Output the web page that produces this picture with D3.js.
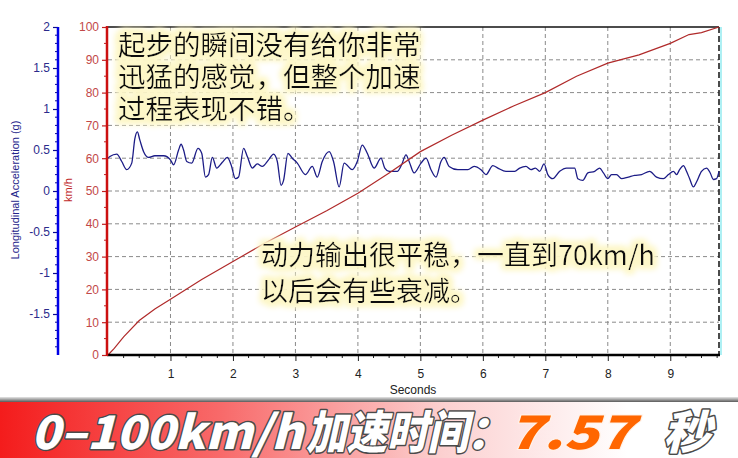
<!DOCTYPE html>
<html><head><meta charset="utf-8">
<script src="https://cdn.jsdelivr.net/npm/d3@7/dist/d3.min.js"></script>
<style>
html,body{margin:0;padding:0;background:#fff;}
svg{display:block;}
</style></head>
<body>
<svg id="chart" width="738" height="458"></svg>
<script>
// ---------- data ----------
const accTime = [0, 0.03, 0.14, 0.22, 0.30, 0.38, 0.43, 0.47, 0.51, 0.57,
  0.65, 0.75, 0.89, 1.00, 1.05, 1.13, 1.17, 1.21, 1.26, 1.34,
  1.44, 1.50, 1.56, 1.61, 1.67, 1.74, 1.83, 1.91, 1.97, 2.04,
  2.09, 2.17, 2.23, 2.31, 2.39, 2.47, 2.57, 2.65, 2.71, 2.77,
  2.81, 2.88, 2.95, 3.03, 3.16, 3.27, 3.35, 3.43, 3.54, 3.61,
  3.70, 3.78, 3.91, 3.99, 4.07, 4.15, 4.26, 4.37, 4.43, 4.50,
  4.63, 4.70, 4.77, 4.82, 4.90, 5.01, 5.09, 5.17, 5.25, 5.33,
  5.38, 5.46, 5.60, 5.76, 5.86, 5.97, 6.05, 6.16, 6.24, 6.37,
  6.51, 6.59, 6.69, 6.77, 6.84, 6.91, 6.98, 7.04, 7.12, 7.23,
  7.34, 7.47, 7.52, 7.60, 7.68, 7.79, 7.87, 7.93, 8.00, 8.06,
  8.14, 8.22, 8.33, 8.43, 8.54, 8.67, 8.78, 8.89, 8.97, 9.05,
  9.10, 9.15, 9.21, 9.26, 9.31, 9.37, 9.42, 9.50, 9.58, 9.64,
  9.69, 9.74, 9.78];
const accG = [0.40, 0.42, 0.45, 0.36, 0.26, 0.34, 0.64, 0.72, 0.62, 0.48,
  0.41, 0.43, 0.43, 0.38, 0.32, 0.50, 0.57, 0.50, 0.36, 0.34,
  0.52, 0.46, 0.17, 0.20, 0.41, 0.28, 0.35, 0.41, 0.32, 0.15,
  0.17, 0.52, 0.42, 0.28, 0.33, 0.30, 0.38, 0.45, 0.36, 0.07,
  0.13, 0.46, 0.40, 0.34, 0.20, 0.30, 0.17, 0.36, 0.48, 0.36,
  0.05, 0.34, 0.26, 0.36, 0.56, 0.46, 0.28, 0.40, 0.28, 0.24,
  0.24, 0.32, 0.44, 0.36, 0.22, 0.34, 0.40, 0.26, 0.17, 0.36,
  0.41, 0.30, 0.26, 0.26, 0.30, 0.26, 0.20, 0.31, 0.28, 0.24,
  0.24, 0.28, 0.30, 0.26, 0.28, 0.24, 0.33, 0.20, 0.15, 0.24,
  0.28, 0.28, 0.15, 0.13, 0.22, 0.24, 0.28, 0.22, 0.15, 0.20,
  0.20, 0.15, 0.17, 0.19, 0.20, 0.24, 0.17, 0.15, 0.20, 0.24,
  0.20, 0.26, 0.31, 0.24, 0.15, 0.05, 0.11, 0.24, 0.28, 0.22,
  0.14, 0.15, 0.24];
const speedTime = [0, 0.1, 0.25, 0.5, 0.75, 1, 1.5, 2, 2.5, 3, 3.5, 4, 4.5, 5, 5.5, 6, 6.5, 7, 7.5, 8, 8.5, 9, 9.3, 9.5, 9.78];
const speedKmh  = [0, 2, 5.5, 10.5, 14, 17, 23, 28.5, 34, 39, 44, 49.3, 55.5, 62, 67, 71.6, 76, 80, 85, 89, 91.5, 95, 97.7, 98.3, 100];
const xTicks = [1, 2, 3, 4, 5, 6, 7, 8, 9];
const speedTicks = [0, 10, 20, 30, 40, 50, 60, 70, 80, 90, 100];
const accTicks = [-1.5, -1, -0.5, 0, 0.5, 1, 1.5, 2];
const note1 = ["起步的瞬间没有给你非常", "迅猛的感觉，但整个加速", "过程表现不错。"];
const note2 = ["动力输出很平稳，一直到70km/h", "以后会有些衰减。"];
const bannerSpeed = "0–100km/h";
const bannerLabel = "加速时间";
const bannerColon = "：";
const bannerValue = "7.57";
const bannerUnit = "秒";

// ---------- layout ----------
const svg = d3.select("#chart");
const L = 108, R = 719, T = 27, B = 355;
const x = d3.scaleLinear().domain([0, 9.78]).range([L, R]);
const ySpd = d3.scaleLinear().domain([0, 100]).range([B, T]);
const yAcc = d3.scaleLinear().domain([-2, 2]).range([B, T]);

const defs = svg.append("defs");
const glow = defs.append("filter").attr("id", "glow").attr("x", "-10%").attr("y", "-30%").attr("width", "120%").attr("height", "160%");
glow.append("feMorphology").attr("in", "SourceAlpha").attr("operator", "dilate").attr("radius", 3).attr("result", "d");
glow.append("feGaussianBlur").attr("in", "d").attr("stdDeviation", 3).attr("result", "b");
glow.append("feFlood").attr("flood-color", "#fdf7c8").attr("result", "c");
glow.append("feComposite").attr("in", "c").attr("in2", "b").attr("operator", "in").attr("result", "g");
const gm = glow.append("feMerge");
gm.append("feMergeNode").attr("in", "g");
gm.append("feMergeNode").attr("in", "g");
gm.append("feMergeNode").attr("in", "SourceGraphic");

const bg = defs.append("linearGradient").attr("id", "bannerGrad").attr("x1", "0").attr("x2", "1").attr("y1", "0").attr("y2", "0");
bg.append("stop").attr("offset", "0").attr("stop-color", "#f41c1c");
bg.append("stop").attr("offset", "0.3").attr("stop-color", "#f86a6a");
bg.append("stop").attr("offset", "0.6").attr("stop-color", "#fcd0d0");
bg.append("stop").attr("offset", "0.85").attr("stop-color", "#ffffff");
bg.append("stop").attr("offset", "1").attr("stop-color", "#ffffff");
const tg = defs.append("linearGradient").attr("id", "topGrad").attr("x1", "0").attr("x2", "0").attr("y1", "0").attr("y2", "1");
tg.append("stop").attr("offset", "0").attr("stop-color", "#e6e6e6");
tg.append("stop").attr("offset", "1").attr("stop-color", "#5a5a5a");

// grid
const grid = svg.append("g");
grid.selectAll("line.h").data(speedTicks.filter(d => d > 0 && d < 100)).join("line")
  .attr("x1", L).attr("x2", R).attr("y1", d => ySpd(d)).attr("y2", d => ySpd(d))
  .attr("stroke", "#8a8a8a").attr("stroke-width", 1).attr("stroke-dasharray", "4,3");
grid.selectAll("line.v").data(xTicks).join("line")
  .attr("x1", d => x(d)).attr("x2", d => x(d)).attr("y1", T).attr("y2", B)
  .attr("stroke", "#8a8a8a").attr("stroke-width", 1).attr("stroke-dasharray", "4,3");

// frame
svg.append("line").attr("x1", L - 1).attr("x2", R).attr("y1", T).attr("y2", T).attr("stroke", "#111").attr("stroke-width", 1.5);
svg.append("line").attr("x1", R + 2).attr("x2", R + 2).attr("y1", T).attr("y2", B).attr("stroke", "#aef0f4").attr("stroke-width", 2);
svg.append("line").attr("x1", R).attr("x2", R).attr("y1", T).attr("y2", B).attr("stroke", "#111").attr("stroke-width", 1.5).attr("stroke-dasharray", "6,3");

// lines
const accLine = d3.line().x((d, i) => x(accTime[i])).y(d => yAcc(d)).curve(d3.curveMonotoneX);
svg.append("path").attr("d", accLine(accG)).attr("fill", "none").attr("stroke", "#1c1c86").attr("stroke-width", 1.3);
const spdLine = d3.line().x((d, i) => x(speedTime[i])).y(d => ySpd(d));
svg.append("path").attr("d", spdLine(speedKmh)).attr("fill", "none").attr("stroke", "#b02a2a").attr("stroke-width", 1.2);

// x axis
const xAxis = svg.append("g").attr("transform", `translate(0,${B})`)
  .call(d3.axisBottom(x).tickValues(xTicks).tickSize(6).tickPadding(8).tickFormat(d => String(d)));
xAxis.select(".domain").remove();
xAxis.selectAll(".tick line").attr("stroke", "#222");
xAxis.selectAll("text").attr("font-family", "Liberation Sans, Arial, sans-serif").attr("font-size", 12).attr("fill", "#222");
const xMinor = d3.range(0, 9.76, 0.25).filter(d => Math.abs(d - Math.round(d)) > 0.01);
svg.append("g").selectAll("line").data(xMinor).join("line")
  .attr("x1", d => x(d)).attr("x2", d => x(d)).attr("y1", B).attr("y2", B + 3).attr("stroke", "#222");
svg.append("line").attr("x1", L - 1).attr("x2", R + 1).attr("y1", B).attr("y2", B).attr("stroke", "#000").attr("stroke-width", 2.5);
svg.append("text").attr("x", 413).attr("y", 394).attr("text-anchor", "middle")
  .attr("font-family", "Liberation Sans, Arial, sans-serif").attr("font-size", 12).attr("fill", "#222").text("Seconds");

// speed axis (red)
const sAxis = svg.append("g").attr("transform", `translate(${L - 1},0)`)
  .call(d3.axisLeft(ySpd).tickValues(speedTicks).tickSize(5).tickPadding(3).tickFormat(d => String(d)));
sAxis.select(".domain").remove();
sAxis.selectAll(".tick line").attr("stroke", "#c02020").attr("stroke-width", 1.2);
sAxis.selectAll("text").attr("font-family", "Liberation Sans, Arial, sans-serif").attr("font-size", 12).attr("fill", "#c24848");
const sMinor = d3.range(5, 100, 10);
svg.append("g").selectAll("line").data(sMinor).join("line")
  .attr("x1", L - 4).attr("x2", L - 1).attr("y1", d => ySpd(d)).attr("y2", d => ySpd(d)).attr("stroke", "#c02020");
svg.append("line").attr("x1", L - 1).attr("x2", L - 1).attr("y1", T - 1).attr("y2", B + 1).attr("stroke", "#cc1010").attr("stroke-width", 2.5);
svg.append("text").attr("transform", "translate(72,190) rotate(-90)").attr("text-anchor", "middle")
  .attr("font-family", "Liberation Sans, Arial, sans-serif").attr("font-size", 11).attr("fill", "#c02828").text("km/h");

// acceleration axis (blue)
const AX = 58;
const aAxis = svg.append("g").attr("transform", `translate(${AX},0)`)
  .call(d3.axisLeft(yAcc).tickValues(accTicks).tickSize(5).tickPadding(3).tickFormat(d => String(d)));
aAxis.select(".domain").remove();
aAxis.selectAll(".tick line").attr("stroke", "#0a0a90").attr("stroke-width", 1.2);
aAxis.selectAll("text").attr("font-family", "Liberation Sans, Arial, sans-serif").attr("font-size", 12).attr("fill", "#2b2b8c");
const aMinor = d3.range(-19, 20, 1).map(d => d / 10).filter(d => Math.abs(d * 2 - Math.round(d * 2)) > 0.01);
svg.append("g").selectAll("line").data(aMinor).join("line")
  .attr("x1", AX - 3).attr("x2", AX).attr("y1", d => yAcc(d)).attr("y2", d => yAcc(d)).attr("stroke", "#0a0a90");
svg.append("line").attr("x1", AX).attr("x2", AX).attr("y1", T).attr("y2", B).attr("stroke", "#0000e6").attr("stroke-width", 2.5);
svg.append("text").attr("transform", "translate(19,190) rotate(-90)").attr("text-anchor", "middle")
  .attr("font-family", "Liberation Sans, Arial, sans-serif").attr("font-size", 11).attr("fill", "#24248a").text("Longitudinal Acceleration (g)");

// annotations
const cjk = "'Noto Sans CJK SC', sans-serif";
const n1 = svg.append("g").attr("filter", "url(#glow)");
n1.selectAll("text").data(note1).join("text")
  .attr("x", 118).attr("y", (d, i) => 55 + i * 32)
  .attr("font-family", cjk).attr("font-size", 27.5).attr("fill", "#111").text(d => d);
const n2 = svg.append("g").attr("filter", "url(#glow)");
n2.selectAll("text").data(note2).join("text")
  .attr("x", 261).attr("y", (d, i) => 265 + i * 36)
  .attr("font-family", cjk).attr("font-size", 27).attr("fill", "#111").text(d => d);

// banner
svg.append("rect").attr("x", 0).attr("y", 397).attr("width", 738).attr("height", 5).attr("fill", "url(#topGrad)");
svg.append("rect").attr("x", 0).attr("y", 402).attr("width", 738).attr("height", 56).attr("fill", "url(#bannerGrad)");
const bf = svg.append("g").attr("font-family", cjk).attr("font-weight", 900).attr("font-style", "italic").attr("font-size", 46);
function whiteText(sel) {
  return sel.attr("fill", "#fff").attr("stroke", "#4a4a4a").attr("stroke-width", 3)
    .attr("paint-order", "stroke").attr("stroke-linejoin", "round");
}
whiteText(bf.append("text").attr("x", 31).attr("y", 449).attr("textLength", 272).attr("lengthAdjust", "spacingAndGlyphs").text(bannerSpeed));
whiteText(bf.append("text").attr("x", 306).attr("y", 449).attr("textLength", 162).attr("lengthAdjust", "spacingAndGlyphs").text(bannerLabel));
whiteText(bf.append("text").attr("x", 466).attr("y", 449).text(bannerColon));
bf.append("text").attr("x", 508).attr("y", 449).attr("textLength", 126).attr("lengthAdjust", "spacingAndGlyphs")
  .attr("fill", "#ff6600").attr("stroke", "#fff2e8").attr("stroke-width", 2).attr("paint-order", "stroke")
  .text(bannerValue);
whiteText(bf.append("text").attr("x", 663).attr("y", 449).attr("textLength", 48).attr("lengthAdjust", "spacingAndGlyphs").text(bannerUnit));
</script>
</body></html>
